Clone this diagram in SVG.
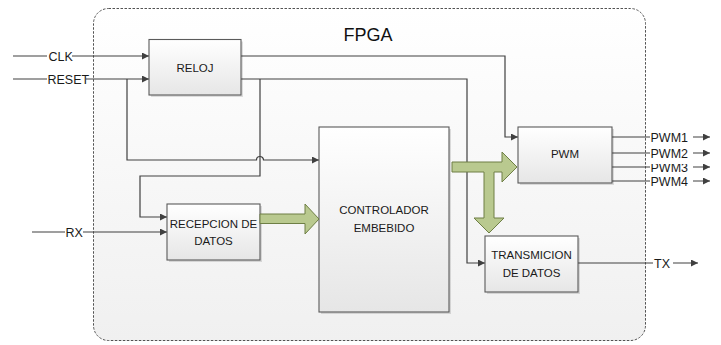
<svg xmlns="http://www.w3.org/2000/svg" width="721" height="345" viewBox="0 0 721 345">
<style>
.box{stroke:#5a5a5a;stroke-width:1.1;fill:url(#boxg)}
.shadow{fill:#000;opacity:0.12}
.wire{fill:none;stroke:#404040;stroke-width:1.2}
.bt{font-family:"Liberation Sans",Arial,sans-serif;font-size:11.5px;fill:#1a1a1a;text-anchor:middle}
.lt{font-family:"Liberation Sans",Arial,sans-serif;font-size:12.5px;fill:#1a1a1a}
.green{fill:#b9c98f;stroke:#6e7f45;stroke-width:1}
</style>
<defs>
<linearGradient id="boxg" x1="0" y1="0" x2="0" y2="1">
<stop offset="0" stop-color="#ffffff"/>
<stop offset="1" stop-color="#e6e6e6"/>
</linearGradient>
<linearGradient id="frameg" x1="0" y1="0" x2="0" y2="1">
<stop offset="0" stop-color="#ffffff"/>
<stop offset="1" stop-color="#f0f0f0"/>
</linearGradient>
<marker id="arr" viewBox="0 0 10 10" refX="10" refY="5" markerWidth="9" markerHeight="7" markerUnits="userSpaceOnUse" orient="auto">
<path d="M0,0 L10,5 L0,10 Z" fill="#404040"/>
</marker>
</defs>
<g id="fpga">
<rect x="93.5" y="8.5" width="552" height="332" rx="15" fill="url(#frameg)" stroke="#404040" stroke-width="0.9" stroke-dasharray="2.5,1.5"/>
<text x="368" y="41" font-family="Liberation Sans,Arial,sans-serif" font-size="18" fill="#111" text-anchor="middle">FPGA</text>
</g>
<g id="connectors">
<path class="wire" d="M13,56 H47 M72,56 H149" marker-end="url(#arr)"/>
<path class="wire" d="M13,79 H47 M86,79 H149" marker-end="url(#arr)"/>
<path class="wire" d="M127,79 V160 H256.5 A3.5,3.5 0 0 1 263.5,160 H319" marker-end="url(#arr)"/>
<path class="wire" d="M241,56 H505 V137 H518" marker-end="url(#arr)"/>
<path class="wire" d="M241,79 H467 V263 H485" marker-end="url(#arr)"/>
<path class="wire" d="M260,79 V176 H140 V217 H167" marker-end="url(#arr)"/>
<path class="wire" d="M32,232 H65 M83,232 H167" marker-end="url(#arr)"/>
<path class="wire" d="M612,137 H650 M693,137 H710" marker-end="url(#arr)"/>
<path class="wire" d="M612,153 H650 M693,153 H710" marker-end="url(#arr)"/>
<path class="wire" d="M612,167 H650 M693,167 H710" marker-end="url(#arr)"/>
<path class="wire" d="M612,181 H650 M693,181 H710" marker-end="url(#arr)"/>
<path class="wire" d="M578,263 H653 M673,263 H698" marker-end="url(#arr)"/>
<text class="lt" x="48.5" y="60.5">CLK</text>
<text class="lt" x="47.5" y="83.5">RESET</text>
<text class="lt" x="65.5" y="236.5">RX</text>
<text class="lt" x="650.5" y="141.5">PWM1</text>
<text class="lt" x="650.5" y="171.5">PWM3</text>
<rect x="649" y="158.5" width="44" height="5.5" fill="#ffffff"/>
<text class="lt" x="650.5" y="157.5">PWM2</text>
<text class="lt" x="650.5" y="185.5">PWM4</text>
<text class="lt" x="654" y="267.5">TX</text>
</g>
<g id="reloj">
<rect class="shadow" x="151" y="41.5" width="92" height="55.5"/>
<rect class="box" x="149" y="39.5" width="92" height="55.5"/>
<text class="bt" x="195" y="72">RELOJ</text>
</g>
<g id="controlador">
<rect class="shadow" x="321" y="129" width="130" height="185"/>
<rect class="box" x="319" y="127" width="130" height="185"/>
<text class="bt" x="384" y="214">CONTROLADOR</text>
<text class="bt" x="384" y="232">EMBEBIDO</text>
</g>
<g id="pwm">
<rect class="shadow" x="520" y="129" width="94" height="56"/>
<rect class="box" x="518" y="127" width="94" height="56"/>
<text class="bt" x="565" y="158">PWM</text>
</g>
<g id="recepcion">
<rect class="shadow" x="169" y="206" width="93" height="56"/>
<rect class="box" x="167" y="204" width="93" height="56"/>
<text class="bt" x="213.5" y="228">RECEPCION DE</text>
<text class="bt" x="213.5" y="245">DATOS</text>
</g>
<g id="transmicion">
<rect class="shadow" x="487" y="238" width="93" height="56"/>
<rect class="box" x="485" y="236" width="93" height="56"/>
<text class="bt" x="531.5" y="259">TRANSMICION</text>
<text class="bt" x="531.5" y="277">DE DATOS</text>
</g>
<g id="buses">
<polygon class="green" points="260,214 305,214 305,204 319,219 305,234 305,223.5 260,223.5"/>
<polygon class="green" points="452,162 502,162 502,152 517,167 502,182 502,172 494,172 494,218 504,218 489,233 474,218 484,218 484,172 452,172"/>
</g>
</svg>
